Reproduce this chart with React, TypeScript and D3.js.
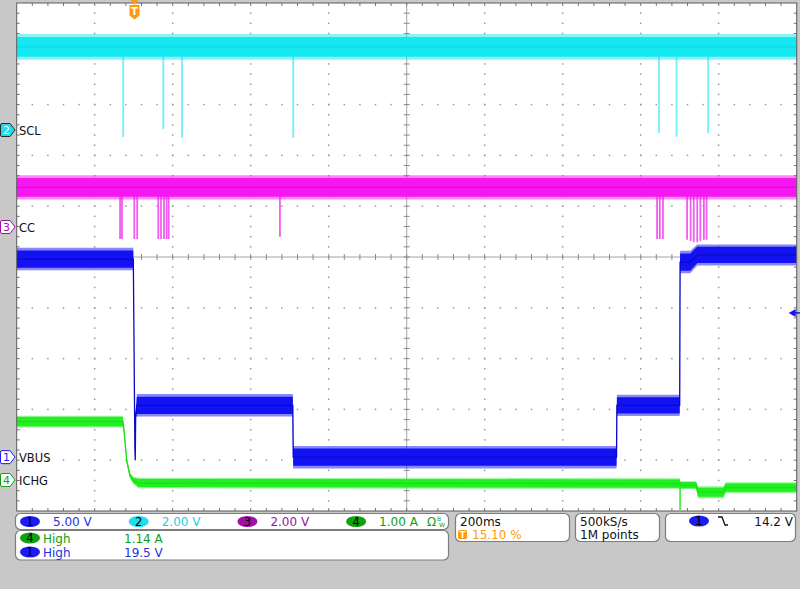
import React from 'react'
import * as d3 from 'd3'

// screen / graticule geometry
const W = 800
const H = 589
const PLOT = { left: 16.7, right: 796.7, top: 3, bottom: 511 }
const HDIVS = 10
const VDIVS = 10
const SUB = 5

// timebase 200 ms/div, trigger at 15.10 % of record -> t = 0
const timeDomain: [number, number] = [-302, 1698]

// traces: [time ms, level, noise +/-]
const sclTrace: [number, number, number][] = [
    [-302, 3.27, 0.39],
    [1698, 3.27, 0.39],
]
const ccTrace: [number, number, number][] = [
    [-302, 1.56, 0.37],
    [1698, 1.56, 0.37],
]
const vbusTrace: [number, number, number][] = [
    [-302, 19.5, 0.85],
    [-3, 19.5, 0.85],
    [-2, 15, 0.15],
    [1, 1, 0.15],
    [2, -0.3, 0.1],
    [3, 4.0, 0.15],
    [6, 5.1, 0.85],
    [406, 5.1, 0.85],
    [407, 0, 0.85],
    [1236, 0, 0.85],
    [1237, 5.1, 0.8],
    [1398, 5.1, 0.8],
    [1399, 19.2, 0.85],
    [1425, 19.2, 0.85],
    [1443, 19.9, 0.8],
    [1698, 19.9, 0.8],
]
const ichgTrace: [number, number, number][] = [
    [-302, 1.15, 0.09],
    [-30, 1.15, 0.09],
    [-27, 1.0, 0.05],
    [-24, 0.73, 0.04],
    [-20, 0.39, 0.04],
    [-12, 0.1, 0.04],
    [-4, 0.0, 0.05],
    [10, -0.06, 0.08],
    [1398, -0.07, 0.08],
    [1400, -0.1, 0.06],
    [1440, -0.1, 0.06],
    [1445, -0.24, 0.09],
    [1510, -0.24, 0.09],
    [1516, -0.15, 0.08],
    [1698, -0.15, 0.08],
]

// short dropouts: [time ms, lowest level]
const sclGlitches: [number, number][] = [
    [-29, -0.28], [74, 0.04], [122, -0.31], [407, -0.31],
    [1345, -0.12], [1390, -0.27], [1471, -0.12],
]
const ccGlitches: [number, number][] = [
    [-37, -0.47], [-32, -0.47], [-0.5, -0.47], [7, -0.47],
    [61, -0.47], [68, -0.47], [75.6, -0.47], [82.5, -0.47], [87.7, -0.47],
    [373, -0.38],
    [1340, -0.47], [1347, -0.47], [1355, -0.47],
    [1417, -0.5], [1426, -0.55], [1434, -0.6], [1443, -0.6], [1451, -0.55], [1460, -0.5], [1467, -0.5],
]
const vbusGlitches: [number, number][] = []
const ichgGlitches: [number, number][] = [[1399, -0.59]]

interface Channel {
    id: number
    label: string
    scale: number
    pos: number
    color: string
    dark: string
    glitchColor: string
    trace: [number, number, number][]
    glitches: [number, number][]
    filledMarker: boolean
}

const channels: Channel[] = [
    { id: 2, label: 'SCL', scale: 2, pos: 2.5, color: '#16e8f2', dark: '#0ad8e6', glitchColor: '#72eef8', trace: sclTrace, glitches: sclGlitches, filledMarker: true },
    { id: 3, label: 'CC', scale: 2, pos: 0.59, color: '#f516f0', dark: '#ee00ea', glitchColor: '#f25cf0', trace: ccTrace, glitches: ccGlitches, filledMarker: false },
    { id: 1, label: 'VBUS', scale: 5, pos: -3.94, color: '#1212f2', dark: '#0808c8', glitchColor: '#5a5af8', trace: vbusTrace, glitches: vbusGlitches, filledMarker: false },
    { id: 4, label: 'ICHG', scale: 1, pos: -4.39, color: '#22ee22', dark: '#16e016', glitchColor: '#44f044', trace: ichgTrace, glitches: ichgGlitches, filledMarker: false },
]

// readout panel
const chColors: { [k: number]: { fill: string, text: string } } = {
    1: { fill: '#1c1cf0', text: '#2233dd' },
    2: { fill: '#20dcec', text: '#18d0e2' },
    3: { fill: '#a010a8', text: '#a010a8' },
    4: { fill: '#10a010', text: '#129c12' },
}
const verticalScales = [
    { ch: 1, text: '5.00 V' },
    { ch: 2, text: '2.00 V' },
    { ch: 3, text: '2.00 V' },
    { ch: 4, text: '1.00 A' },
]
const measurements = [
    { ch: 4, name: 'High', value: '1.14 A' },
    { ch: 1, name: 'High', value: '19.5 V' },
]
const timebase = '200ms'
const triggerPos = '15.10 %'
const sampleRate = '500kS/s'
const recordLength = '1M points'
const triggerSource = 1
const triggerLevel = '14.2 V'
const triggerTime = 0

const FONT = '"DejaVu Sans", sans-serif'

const x = d3.scaleLinear().domain(timeDomain).range([PLOT.left, PLOT.right])
const yDiv = d3.scaleLinear().domain([-VDIVS / 2, VDIVS / 2]).range([PLOT.bottom, PLOT.top])

function levelAt(trace: [number, number, number][], t: number) {
    const i = d3.bisector((d: [number, number, number]) => d[0]).left(trace, t)
    if (i <= 0) return trace[0][1]
    if (i >= trace.length) return trace[trace.length - 1][1]
    const a = trace[i - 1], b = trace[i]
    const k = (t - a[0]) / (b[0] - a[0])
    return a[1] + k * (b[1] - a[1])
}

function Graticule() {
    const divW = (PLOT.right - PLOT.left) / HDIVS
    const divH = (PLOT.bottom - PLOT.top) / VDIVS
    const dots: JSX.Element[] = []
    // dotted major lines
    for (let i = 1; i < HDIVS; i++) {
        if (i === HDIVS / 2) continue
        const gx = PLOT.left + i * divW
        for (let j = 1; j < VDIVS * SUB; j++) {
            const gy = PLOT.top + j * divH / SUB
            dots.push(<rect key={`v${i}-${j}`} x={gx - 0.75} y={gy - 0.75} width={1.5} height={1.5} fill="#9a9a9a" />)
        }
    }
    for (let j = 1; j < VDIVS; j++) {
        if (j === VDIVS / 2) continue
        const gy = PLOT.top + j * divH
        for (let i = 1; i < HDIVS * SUB; i++) {
            const gx = PLOT.left + i * divW / SUB
            dots.push(<rect key={`h${j}-${i}`} x={gx - 0.75} y={gy - 0.75} width={1.5} height={1.5} fill="#9a9a9a" />)
        }
    }
    const cx = PLOT.left + divW * HDIVS / 2
    const cy = PLOT.top + divH * VDIVS / 2
    const ticks: JSX.Element[] = []
    for (let i = 1; i < HDIVS * SUB; i++) {
        const gx = PLOT.left + i * divW / SUB
        ticks.push(<line key={`ct${i}`} x1={gx} x2={gx} y1={cy - 3} y2={cy + 3} stroke="#8a8a8a" />)
        ticks.push(<line key={`tt${i}`} x1={gx} x2={gx} y1={PLOT.top} y2={PLOT.top + 3} stroke="#777" />)
        ticks.push(<line key={`bt${i}`} x1={gx} x2={gx} y1={PLOT.bottom - 3} y2={PLOT.bottom} stroke="#777" />)
    }
    for (let j = 1; j < VDIVS * SUB; j++) {
        const gy = PLOT.top + j * divH / SUB
        ticks.push(<line key={`cv${j}`} x1={cx - 3} x2={cx + 3} y1={gy} y2={gy} stroke="#8a8a8a" />)
        ticks.push(<line key={`lt${j}`} x1={PLOT.left} x2={PLOT.left + 3} y1={gy} y2={gy} stroke="#777" />)
        ticks.push(<line key={`rt${j}`} x1={PLOT.right - 3} x2={PLOT.right} y1={gy} y2={gy} stroke="#777" />)
    }
    return (
        <g>
            {dots}
            <line x1={PLOT.left} x2={PLOT.right} y1={cy} y2={cy} stroke="#a4a4a4" />
            <line x1={cx} x2={cx} y1={PLOT.top} y2={PLOT.bottom} stroke="#a4a4a4" />
            {ticks}
        </g>
    )
}

function Trace({ ch }: { ch: Channel }) {
    const y = (v: number) => yDiv(ch.pos + v / ch.scale)
    const fringe = d3.area<[number, number, number]>()
        .x(d => x(d[0]))
        .y0(d => y(d[1] - d[2] * 1.3))
        .y1(d => y(d[1] + d[2] * 1.3))
    const core = d3.area<[number, number, number]>()
        .x(d => x(d[0]))
        .y0(d => y(d[1] - d[2]))
        .y1(d => y(d[1] + d[2]))
    const center = d3.line<[number, number, number]>()
        .x(d => x(d[0]))
        .y(d => y(d[1]))
    return (
        <g>
            {ch.glitches.map(([t, v], i) => (
                <line key={i} x1={x(t)} x2={x(t)} y1={y(levelAt(ch.trace, t))} y2={y(v)}
                      stroke={ch.glitchColor} strokeWidth={1.8} />
            ))}
            <path d={fringe(ch.trace) || ''} fill={ch.color} opacity={0.5} />
            <path d={core(ch.trace) || ''} fill={ch.color} />
            <path d={center(ch.trace) || ''} fill="none" stroke={ch.dark} strokeWidth={1.3} />
        </g>
    )
}

function Marker({ ch }: { ch: Channel }) {
    const my = yDiv(ch.pos)
    const c = chColors[ch.id]
    const d = `M2,${my - 6.5} H10 L15,${my} L10,${my + 6.5} H2 Q0.5,${my + 6.5} 0.5,${my + 5} V${my - 5} Q0.5,${my - 6.5} 2,${my - 6.5} Z`
    return (
        <g>
            <path d={d} fill={ch.filledMarker ? c.fill : '#ffffff'} stroke={ch.filledMarker ? '#2a2a2a' : c.fill} strokeWidth={1} />
            <text x={6.5} y={my + 4} textAnchor="middle" fontFamily={FONT} fontSize={11}
                  fill={ch.filledMarker ? '#ffffff' : c.fill}>{ch.id}</text>
            <text x={19} y={my + 4.5} fontFamily={FONT} fontSize={11.5} fill="#111">{ch.label}</text>
        </g>
    )
}

function Badge({ ch, cx, cy }: { ch: number, cx: number, cy: number }) {
    return (
        <g>
            <ellipse cx={cx} cy={cy} rx={10} ry={5.5} fill={chColors[ch].fill} />
            <text x={cx} y={cy + 4} textAnchor="middle" fontFamily={FONT} fontSize={11.5} fill="#000">{ch}</text>
        </g>
    )
}

function Readout() {
    const box = { fill: '#ffffff', stroke: '#7c7c7c', strokeWidth: 1.2 }
    const trigCh = channels.find(c => c.id === triggerSource)!
    return (
        <g fontFamily={FONT} fontSize={12}>
            <rect x={15.5} y={513.5} width={433} height={16} rx={5} {...box} />
            {verticalScales.map((s, i) => (
                <g key={s.ch}>
                    <Badge ch={s.ch} cx={30 + i * 108.7} cy={521.5} />
                    <text x={53 + i * 108.7} y={525.5} fill={chColors[s.ch].text}>{s.text}</text>
                </g>
            ))}
            <text x={427} y={525.5} fill={chColors[4].text} fontSize={12}>Ω</text>
            <text x={437} y={521} fill={chColors[4].text} fontSize={6}>B</text>
            <text x={439} y={527} fill={chColors[4].text} fontSize={6}>W</text>

            <rect x={15.5} y={530.5} width={433} height={29.5} rx={5} {...box} />
            {measurements.map((m, i) => (
                <g key={i}>
                    <Badge ch={m.ch} cx={30} cy={538 + i * 14} />
                    <text x={43} y={542.5 + i * 14} fill={chColors[m.ch].text}>{m.name}</text>
                    <text x={124} y={542.5 + i * 14} fill={chColors[m.ch].text}>{m.value}</text>
                </g>
            ))}

            <rect x={455.5} y={513.5} width={114} height={28} rx={5} {...box} />
            <text x={460} y={525.5} fill="#111">{timebase}</text>
            <rect x={458} y={530} width={9} height={9} rx={1.5} fill="#ff9a10" />
            <text x={462.5} y={538} textAnchor="middle" fontSize={8} fontWeight="bold" fill="#fff">T</text>
            <text x={472} y={538.5} fill="#ff9a10">{triggerPos}</text>

            <rect x={575.5} y={513.5} width={84} height={28} rx={5} {...box} />
            <text x={580} y={525.5} fill="#111">{sampleRate}</text>
            <text x={580} y={538.5} fill="#111">{recordLength}</text>

            <rect x={665.5} y={513.5} width={130} height={28} rx={5} {...box} />
            <Badge ch={trigCh.id} cx={699} cy={521} />
            <path d="M718,517 H722 L725,525 H728" fill="none" stroke="#111" strokeWidth={1.3} />
            <text x={793} y={525.5} textAnchor="end" fill="#111">{triggerLevel}</text>
        </g>
    )
}

export default function App() {
    const trigCh = channels.find(c => c.id === triggerSource)!
    const trigY = yDiv(trigCh.pos + parseFloat(triggerLevel) / trigCh.scale)
    const tx = x(triggerTime)
    return (
        <svg width={W} height={H} style={{ position: 'fixed', left: 0, top: 0, background: '#c8c8c8' }}>
            <defs>
                <clipPath id="plot-clip">
                    <rect x={PLOT.left} y={PLOT.top} width={PLOT.right - PLOT.left} height={PLOT.bottom - PLOT.top} />
                </clipPath>
            </defs>
            <rect x={0} y={0} width={W} height={H} fill="#c8c8c8" />
            <rect x={PLOT.left} y={PLOT.top} width={PLOT.right - PLOT.left} height={PLOT.bottom - PLOT.top} fill="#ffffff" />
            <Graticule />
            <g clipPath="url(#plot-clip)">
                {channels.map(ch => <Trace key={ch.id} ch={ch} />)}
            </g>
            <rect x={PLOT.left} y={PLOT.top} width={PLOT.right - PLOT.left} height={PLOT.bottom - PLOT.top}
                  fill="none" stroke="#5a5a5a" strokeWidth={1} />
            {channels.map(ch => <Marker key={ch.id} ch={ch} />)}
            {/* trigger position marker */}
            <path d={`M${tx - 4},0 H${tx + 4} L${tx},5 Z`} fill="#ff9a10" />
            <path d={`M${tx - 5},5 H${tx + 5} V15.5 L${tx},19.5 L${tx - 5},15.5 Z`} fill="#ff9a10" />
            <text x={tx} y={15} textAnchor="middle" fontFamily={FONT} fontSize={10} fontWeight="bold" fill="#fff">T</text>
            {/* trigger level marker */}
            <path d={`M${PLOT.right - 8},${trigY} L${PLOT.right - 1},${trigY - 4} L${PLOT.right - 1},${trigY + 4} Z`} fill={trigCh.color} />
            <line x1={PLOT.right - 3} x2={W} y1={trigY} y2={trigY} stroke={trigCh.color} strokeWidth={1.5} />
            <Readout />
        </svg>
    )
}
